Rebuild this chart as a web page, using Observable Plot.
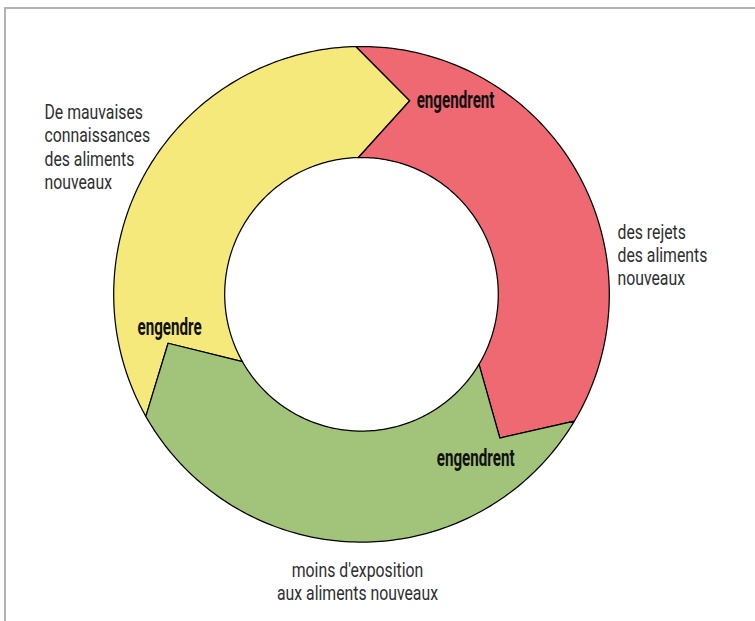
<!DOCTYPE html>
<html><head><meta charset="utf-8">
<script src="https://cdn.jsdelivr.net/npm/d3@7"></script>
<script src="https://cdn.jsdelivr.net/npm/@observablehq/plot@0.6"></script>
<style>
body{margin:0;background:#fff;}
#wrap{position:relative;width:755px;height:621px;overflow:hidden;}
#frame{position:absolute;left:4px;top:7px;width:800px;height:700px;border:2px solid #b3b3b3;}
#chart{position:absolute;left:0;top:0;}
</style></head><body>
<div id="wrap"><div id="frame"></div><div id="chart"></div></div>
<script>
// Cycle segments (clockwise from the top)
const segments = ["De mauvaises\nconnaissances\ndes aliments\nnouveaux", "des rejets\ndes aliments\nnouveaux", "moins d'exposition\naux aliments nouveaux"];
const segmentColors = ["#F5E97C", "#EE6972", "#A1C47A"];
const startAngles = [240.5, -1.3, 120.8];   // degrees clockwise from 12 o'clock
const endAngles   = [358.7, 120.8, 240.5];
const linkWords   = ["engendrent", "engendrent", "engendre"];   // at the end (arrow tip) of each segment

// layout
const W = 755, H = 621, cx = 361, cy = 293.8, R = 247.8;
const rIn = 136.8 / R, rOut = 1, rTip = 0.805, depth = 15.3;
const pt = (r, a) => { const t = a * Math.PI / 180; return [r * Math.sin(t), r * Math.cos(t)]; };

const poly = [];
segments.forEach((s, i) => {
  const a0 = startAngles[i], a1 = endAngles[i];
  const pts = [];
  const n = Math.ceil(a1 - a0);
  for (let k = 0; k <= n; k++) pts.push(pt(rOut, a0 + (a1 - a0) * k / n));
  pts.push(pt(rTip, a1 + depth));
  for (let k = n; k >= 0; k--) pts.push(pt(rIn, a0 + (a1 - a0) * k / n));
  pts.push(pt(rTip, a0 + depth));
  pts.push(pts[0]);
  pts.forEach(([x, y]) => poly.push({seg: s, x, y}));
});

// link word placement (angle, radius)
const linkPos = [[25.9, 0.869], [145.2, 0.807], [260.2, 0.786]];
const links = linkWords.map((w, i) => { const [x, y] = pt(linkPos[i][1], linkPos[i][0]); return {w, x, y}; });

// outer labels placement
const lab = [
  {t: segments[0], x: (44 - cx) / R, y: (cy - 146) / R, anchor: "start"},
  {t: segments[1], x: (617 - cx) / R, y: (cy - 254) / R, anchor: "start"},
  {t: segments[2], x: (357 - cx) / R, y: (cy - 580.5) / R, anchor: "middle"}
];

const font = "Roboto, 'DejaVu Sans', sans-serif";
const chart = Plot.plot({
  width: W, height: H, margin: 0,
  x: {domain: [-cx / R, (W - cx) / R], axis: null},
  y: {domain: [(cy - H) / R, cy / R], axis: null},
  color: {domain: segments, range: segmentColors},
  style: {background: "transparent", fontFamily: font},
  marks: [
    Plot.line(poly, {x: "x", y: "y", z: "seg", fill: "seg", stroke: "#000", strokeWidth: 1.25, curve: "linear"}),
    Plot.text(links, {x: "x", y: "y", text: "w", fontSize: 23, fontWeight: "bold", fill: "#111", textAnchor: "middle", fontFamily: font}),
    ...lab.map(l => Plot.text([l], {x: "x", y: "y", text: "t", fontSize: 20, lineHeight: 1.17, fill: "#2e2e2e", textAnchor: l.anchor, fontFamily: font}))
  ]
});
document.getElementById("chart").appendChild(chart);
// condensed look: horizontal squeeze of the type
const groups = d3.select(chart).selectAll('g[aria-label="text"]').nodes();
groups.forEach((g, i) => {
  const sx = i === 0 ? 0.66 : 0.79;
  d3.select(g).selectAll("text").attr("transform", function() {
    return (this.getAttribute("transform") || "") + ` scale(${sx},1)`;
  });
});
</script>
</body></html>
